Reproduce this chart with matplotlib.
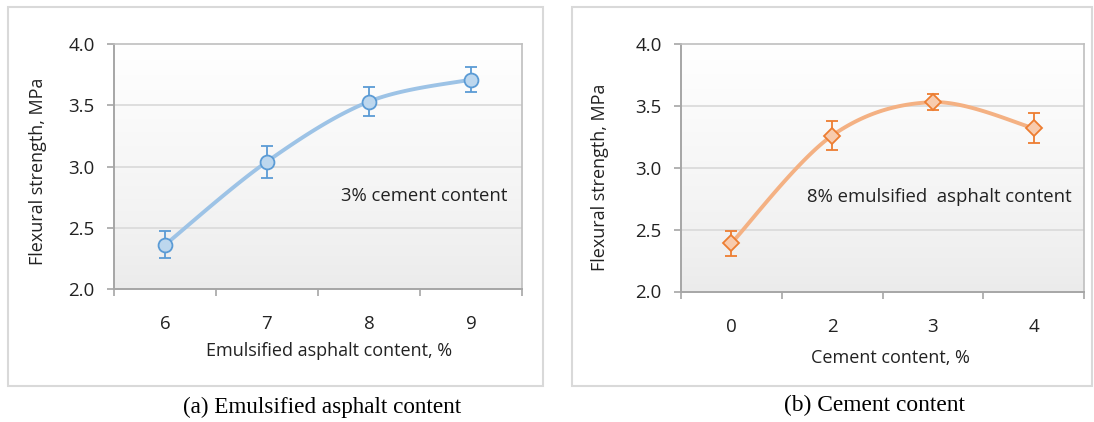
import numpy as np
import matplotlib
matplotlib.use("Agg")
import matplotlib.pyplot as plt
from matplotlib.patches import Rectangle

# data
asphalt_labels = ["6", "7", "8", "9"]
asphalt_strength = [2.36, 3.04, 3.53, 3.71]
asphalt_err = [0.11, 0.13, 0.12, 0.10]

cement_labels = ["0", "2", "3", "4"]
cement_strength = [2.39, 3.26, 3.53, 3.32]
cement_err = [0.10, 0.12, 0.065, 0.12]

W, H = 1094, 422
plt.rcParams['font.family'] = ['Open Sans', 'DejaVu Sans']


def smooth(x, y, n=40):
    # Catmull-Rom curve through the points, like a spreadsheet "smoothed line"
    x = np.asarray(x, float)
    y = np.asarray(y, float)
    px = np.concatenate([[x[0]], x, [x[-1]]])
    py = np.concatenate([[y[0]], y, [y[-1]]])
    xs, ys = [], []
    for i in range(1, len(px) - 2):
        t = np.linspace(0, 1, n)
        for src, dst in ((px, xs), (py, ys)):
            p0, p1, p2, p3 = src[i - 1], src[i], src[i + 1], src[i + 2]
            dst.extend(0.5 * ((2 * p1) + (-p0 + p2) * t
                              + (2 * p0 - 5 * p1 + 4 * p2 - p3) * t ** 2
                              + (-p0 + 3 * p1 - 3 * p2 + p3) * t ** 3))
    return xs, ys


def px_axes(fig, x0, x1, ytop, ybot):
    return fig.add_axes([x0 / W, (H - ybot) / H, (x1 - x0) / W, (ybot - ytop) / H])


def draw_panel(ax, labels, vals, errs, line_c, edge_c, face_c, marker, ms,
               xlabel, xlab_pos, ylab_pos, note, note_x):
    x = np.arange(len(labels))
    ax.set_xlim(-0.5, len(labels) - 0.5)
    ax.set_ylim(2.0, 4.0)

    # gradient plot area: white at top, light grey at bottom
    grad = np.linspace(1.0, 0.0, 256).reshape(-1, 1) ** 0.8
    ax.imshow(grad, extent=[0, 1, 0, 1], transform=ax.transAxes, aspect='auto',
              cmap=matplotlib.colors.LinearSegmentedColormap.from_list('g', ['#ebebeb', '#ffffff']),
              zorder=0)

    for yv in [2.5, 3.0, 3.5]:
        ax.axhline(yv, color='#d9d9d9', lw=1.2, zorder=1)

    sx, sy = smooth(x, vals)
    ax.plot(sx, sy, color=line_c, lw=2.8, zorder=3, solid_capstyle='round')
    ax.errorbar(x, vals, yerr=errs, fmt='none', ecolor=edge_c, elinewidth=1.3,
                capsize=4, capthick=1.3, zorder=4)
    ax.plot(x, vals, linestyle='none', marker=marker, ms=ms, mfc=face_c, mec=edge_c,
            mew=1.3, zorder=5)

    ax.set_yticks([2.0, 2.5, 3.0, 3.5, 4.0])
    ax.set_yticklabels(["2.0", "2.5", "3.0", "3.5", "4.0"])
    ax.set_xticks(x)
    ax.set_xticklabels(labels)
    ax.set_xticks(np.arange(len(labels) + 1) - 0.5, minor=True)
    ax.tick_params(axis='x', which='major', length=0, pad=19, labelsize=13.5, colors='#222222')
    ax.tick_params(axis='x', which='minor', length=5, width=1.2, color='#a6a6a6', direction='out')
    ax.tick_params(axis='y', length=5, width=1.2, color='#a6a6a6', direction='out',
                   labelsize=13.5, labelcolor='#222222', pad=9)

    for side in ['top', 'right']:
        ax.spines[side].set_color('#bfbfbf')
        ax.spines[side].set_linewidth(1.2)
    for side in ['left', 'bottom']:
        ax.spines[side].set_color('#a6a6a6')
        ax.spines[side].set_linewidth(1.4)

    ax.set_ylabel("Flexural strength, MPa", fontsize=13, color='#222222', va='center')
    ax.yaxis.set_label_coords(*ylab_pos)
    ax.set_xlabel(xlabel, fontsize=13, color='#222222', va='center')
    ax.xaxis.set_label_coords(*xlab_pos)
    ax.text(note_x, 2.76, note, fontsize=13.3, color='#222222', ha='right', va='center')


fig = plt.figure(figsize=(W / 100, H / 100), dpi=100)

# light grey boxes around each chart
for x0, x1 in [(8, 543), (572, 1092)]:
    fig.patches.append(Rectangle((x0 / W, (H - 386) / H), (x1 - x0) / W, 379 / H,
                                 transform=fig.transFigure, fill=False,
                                 edgecolor='#d9d9d9', lw=1.5))

ax1 = px_axes(fig, 114, 522, 44, 289)
draw_panel(ax1, asphalt_labels, asphalt_strength, asphalt_err,
           '#9dc3e6', '#5b9bd5', '#bdd7ee', 'o', 10,
           "Emulsified asphalt content, %", (0.527, -0.255), (-0.186, 0.48),
           "3% cement content", 3.36)

ax2 = px_axes(fig, 681, 1084, 44, 291.5)
draw_panel(ax2, cement_labels, cement_strength, cement_err,
           '#f4b183', '#ed7d31', '#f8cbad', 'D', 8.5,
           "Cement content, %", (0.52, -0.27), (-0.201, 0.46),
           "8% emulsified  asphalt content", 3.38)

fig.text(322 / W, 1 - 407 / H, "(a) Emulsified asphalt content", ha='center', va='center',
         fontsize=16.7, family=['Liberation Serif', 'DejaVu Serif'])
fig.text(875 / W, 1 - 405 / H, "(b) Cement content", ha='center', va='center',
         fontsize=16.8, family=['Liberation Serif', 'DejaVu Serif'])

fig.savefig("out.png", dpi=100)
